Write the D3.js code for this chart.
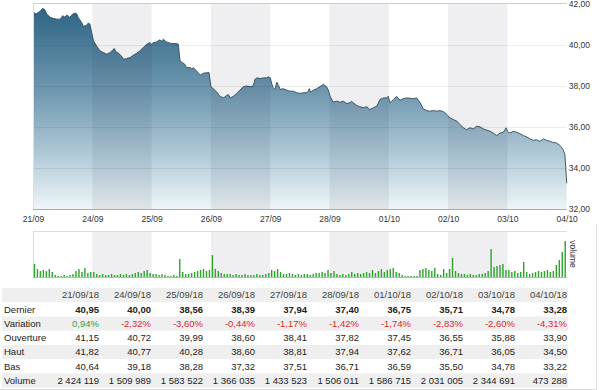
<!DOCTYPE html>
<html>
<head>
  <meta charset="utf-8">
  <script src="https://d3js.org/d3.v7.min.js"></script>
  <style>
    body { margin: 0; background: #fff; }
    text { font-family: "Liberation Sans", Arial, sans-serif; }
    .axis text { fill: #333; font-size: 8.5px; }
    .axis path, .axis line { display: none; }
    .cell { font-size: 9.5px; fill: #222; }
  </style>
</head>
<body>
<div id="chart"></div>
<script>
// x ticks (trading days) and y ticks of the price chart
var dayLabels = ["21/09", "24/09", "25/09", "26/09", "27/09", "28/09", "01/10", "02/10", "03/10", "04/10"];
var priceTicks = [32, 34, 36, 38, 40, 42];

// intraday price, time in trading days since 21/09 open
var priceTime = [0.00, 0.05, 0.09, 0.13, 0.16, 0.20, 0.23, 0.29, 0.34, 0.40, 0.46, 0.50, 0.54, 0.57, 0.60, 0.62, 0.67, 0.71, 0.74, 0.76,
  0.79, 0.82, 0.85, 0.88, 0.91, 0.93, 0.96, 0.99, 1.02, 1.07, 1.13, 1.19, 1.24, 1.30, 1.33, 1.37, 1.40, 1.44, 1.48, 1.53,
  1.58, 1.64, 1.69, 1.75, 1.80, 1.86, 1.92, 1.97, 2.00, 2.03, 2.09, 2.13, 2.17, 2.20, 2.23, 2.25, 2.31, 2.37, 2.42, 2.45,
  2.48, 2.52, 2.56, 2.59, 2.65, 2.68, 2.70, 2.76, 2.82, 2.87, 2.93, 2.97, 3.00, 3.04, 3.10, 3.15, 3.21, 3.25, 3.29, 3.33,
  3.38, 3.44, 3.49, 3.55, 3.60, 3.66, 3.70, 3.73, 3.74, 3.78, 3.83, 3.88, 3.94, 3.97, 4.00, 4.03, 4.05, 4.08, 4.11, 4.14,
  4.17, 4.22, 4.28, 4.33, 4.39, 4.45, 4.50, 4.56, 4.62, 4.64, 4.66, 4.68, 4.73, 4.78, 4.84, 4.87, 4.90, 4.92, 4.95, 4.98,
  5.01, 5.04, 5.06, 5.12, 5.18, 5.23, 5.29, 5.35, 5.37, 5.40, 5.46, 5.51, 5.57, 5.63, 5.68, 5.74, 5.80, 5.85, 5.91, 5.96,
  5.99, 6.02, 6.08, 6.13, 6.19, 6.24, 6.30, 6.36, 6.41, 6.47, 6.50, 6.53, 6.58, 6.64, 6.69, 6.75, 6.81, 6.86, 6.92, 6.98,
  7.03, 7.09, 7.15, 7.20, 7.26, 7.31, 7.37, 7.43, 7.48, 7.54, 7.59, 7.65, 7.71, 7.76, 7.82, 7.88, 7.93, 7.98, 8.00, 8.04,
  8.10, 8.16, 8.21, 8.27, 8.33, 8.38, 8.44, 8.49, 8.55, 8.61, 8.66, 8.72, 8.77, 8.83, 8.89, 8.94, 8.97, 8.99, 9.00];
var priceValue = [41.62, 41.51, 41.59, 41.67, 41.79, 41.72, 41.51, 41.35, 41.30, 41.26, 41.26, 41.43, 41.35, 41.46, 41.40, 41.35, 41.51, 41.56, 41.51, 41.35,
  41.23, 41.10, 40.91, 40.94, 40.97, 41.07, 41.02, 40.61, 40.20, 39.96, 39.71, 39.63, 39.55, 39.63, 39.71, 39.83, 39.66, 39.60, 39.50, 39.30,
  39.34, 39.39, 39.50, 39.60, 39.71, 39.88, 40.04, 40.12, 40.04, 40.12, 40.15, 40.25, 40.20, 40.28, 40.20, 40.15, 40.09, 40.07, 40.07, 40.04,
  39.22, 39.14, 39.06, 38.90, 38.90, 38.82, 38.90, 38.73, 38.53, 38.62, 38.65, 38.65, 37.97, 37.87, 37.70, 37.50, 37.42, 37.50, 37.59, 37.42,
  37.50, 37.64, 37.80, 37.97, 38.00, 37.97, 37.97, 38.16, 38.32, 38.40, 38.36, 38.39, 38.40, 38.45, 38.40, 38.08, 37.92, 37.83, 38.19, 38.03,
  37.83, 37.87, 37.80, 37.75, 37.75, 37.67, 37.64, 37.67, 37.67, 37.75, 37.87, 37.70, 37.80, 37.87, 37.97, 38.03, 38.08, 38.03, 37.97, 37.80,
  37.50, 37.34, 37.21, 37.26, 37.21, 37.26, 37.15, 37.18, 37.26, 37.18, 37.05, 36.99, 36.94, 36.99, 36.85, 36.94, 37.02, 37.34, 37.42, 37.42,
  37.50, 37.18, 37.34, 37.50, 37.30, 37.38, 37.42, 37.40, 37.38, 37.42, 37.30, 37.18, 36.89, 36.80, 36.77, 36.80, 36.77, 36.80, 36.75, 36.61,
  36.44, 36.36, 36.28, 36.12, 35.96, 35.87, 35.96, 35.91, 36.04, 36.01, 35.91, 35.85, 35.79, 35.71, 35.58, 35.71, 35.74, 35.96, 35.79, 35.71,
  35.79, 35.74, 35.68, 35.58, 35.51, 35.42, 35.35, 35.38, 35.30, 35.42, 35.35, 35.30, 35.25, 35.22, 35.09, 34.89, 34.65, 33.75, 33.26];

// intraday volume, 20 slots per day (relative units)
var volumeByDay = [
  [13, 8, 6, 7, 6, 8, 5, 2, 1, 1, 2, 1, 2, 3, 6, 8, 5, 9, 4, 5],
  [5, 3, 2, 3, 2, 2, 3, 2, 2, 3, 2, 3, 2, 3, 4, 5, 4, 6, 7, 4],
  [3, 3, 2, 3, 2, 1, 1, 2, 1, 18, 5, 3, 3, 4, 5, 6, 7, 8, 6, 7],
  [22, 8, 6, 4, 3, 3, 3, 2, 3, 2, 2, 3, 2, 2, 2, 3, 2, 2, 3, 4],
  [7, 6, 8, 5, 3, 3, 4, 3, 2, 3, 2, 3, 3, 2, 3, 4, 4, 5, 4, 7],
  [4, 6, 3, 2, 3, 2, 3, 5, 3, 4, 3, 4, 5, 4, 7, 4, 6, 8, 5, 7],
  [8, 9, 5, 4, 2, 1, 1, 1, 1, 1, 7, 8, 9, 7, 6, 9, 3, 2, 8, 4],
  [8, 19, 6, 4, 3, 3, 2, 3, 2, 2, 3, 3, 4, 6, 28, 10, 11, 12, 13, 7],
  [7, 5, 6, 4, 5, 15, 5, 3, 4, 5, 6, 5, 6, 7, 5, 6, 12, 17, 25, 36]
];

// daily table
var tableDates = ["21/09/18", "24/09/18", "25/09/18", "26/09/18", "27/09/18", "28/09/18", "01/10/18", "02/10/18", "03/10/18", "04/10/18"];
var dernier = [40.95, 40.00, 38.56, 38.39, 37.94, 37.40, 36.75, 35.71, 34.78, 33.28];
var variation = [0.94, -2.32, -3.60, -0.44, -1.17, -1.42, -1.74, -2.83, -2.60, -4.31];
var ouverture = [41.15, 40.72, 39.99, 38.60, 38.41, 37.82, 37.45, 36.55, 35.88, 33.90];
var haut = [41.82, 40.77, 40.28, 38.60, 38.81, 37.94, 37.62, 36.71, 36.05, 34.50];
var bas = [40.64, 39.18, 38.28, 37.32, 37.51, 36.71, 36.59, 35.50, 34.78, 33.22];
var volume = [2424119, 1509989, 1583522, 1366035, 1433523, 1506011, 1586715, 2031005, 2344691, 473288];

var fr = d3.formatLocale({decimal: ",", thousands: " ", grouping: [3], currency: ["", " €"], minus: "-"});
var f2 = fr.format(",.2f");
var fInt = fr.format(",d");

var svg = d3.select("#chart").append("svg")
  .attr("width", 600)
  .attr("height", 390);

var x = d3.scaleLinear().domain([0, 9]).range([33, 566.7]);
var y = d3.scaleLinear().domain([32, 42]).range([209, 4]);
var yVol = d3.scaleLinear().domain([0, 45]).range([277, 232]);

// gradient for the price area
var grad = svg.append("defs").append("linearGradient")
  .attr("id", "areaGrad")
  .attr("gradientUnits", "userSpaceOnUse")
  .attr("x1", 0).attr("x2", 0)
  .attr("y1", y(42)).attr("y2", y(32));
grad.selectAll("stop")
  .data([[0, "#2b6283"], [0.45, "#739bb2"], [0.75, "#b4ccd9"], [1, "#eff5f8"]])
  .enter().append("stop")
  .attr("offset", function (d) { return d[0]; })
  .attr("stop-color", function (d) { return d[1]; });

var price = priceTime.map(function (t, i) { return [t, priceValue[i]]; });

// draw area + line
svg.append("path")
  .datum(price)
  .attr("fill", "url(#areaGrad)")
  .attr("d", d3.area()
    .x(function (d) { return x(d[0]); })
    .y0(y(32))
    .y1(function (d) { return y(d[1]); }));

svg.append("path")
  .datum(price)
  .attr("fill", "none")
  .attr("stroke", "#2f4d5e")
  .attr("stroke-width", 0.9)
  .attr("d", d3.line()
    .x(function (d) { return x(d[0]); })
    .y(function (d) { return y(d[1]); }));

// alternating day bands, on both charts
var bandDays = [1, 3, 5, 7];
[[y(42), y(32)], [yVol(45), yVol(0)]].forEach(function (r) {
  svg.append("g").selectAll("rect")
    .data(bandDays)
    .enter().append("rect")
    .attr("x", function (d) { return x(d); })
    .attr("width", function (d) { return x(d + 1) - x(d); })
    .attr("y", r[0])
    .attr("height", r[1] - r[0])
    .attr("fill", "rgba(40,40,70,0.075)");
});

// horizontal grid
svg.append("g").selectAll("line")
  .data(priceTicks.slice(1, -1))
  .enter().append("line")
  .attr("x1", x(0)).attr("x2", x(9))
  .attr("y1", function (d) { return Math.round(y(d)) + 0.5; })
  .attr("y2", function (d) { return Math.round(y(d)) + 0.5; })
  .attr("stroke", "rgba(0,0,0,0.07)");

// frame lines
svg.append("line").attr("x1", x(0)).attr("x2", x(9)).attr("y1", 3.5).attr("y2", 3.5).attr("stroke", "#ccc");
svg.append("line").attr("x1", x(0)).attr("x2", x(9)).attr("y1", 209.5).attr("y2", 209.5).attr("stroke", "#aaa");
svg.append("line").attr("x1", 33.5).attr("x2", 33.5).attr("y1", 4).attr("y2", 209).attr("stroke", "#ddd");

// axes
svg.append("g")
  .attr("class", "axis")
  .attr("transform", "translate(0,209)")
  .call(d3.axisBottom(x).tickValues(d3.range(10)).tickSize(0).tickPadding(7)
    .tickFormat(function (d) { return dayLabels[d]; }));

svg.append("g")
  .attr("class", "axis")
  .attr("transform", "translate(" + x(9) + ",0)")
  .call(d3.axisRight(y).tickValues(priceTicks).tickSize(0).tickPadding(2).tickFormat(f2));

// volume chart
var volBars = [];
volumeByDay.forEach(function (day, di) {
  day.forEach(function (v, i) { volBars.push([di + (i + 0.5) / 20, v]); });
});

svg.append("line").attr("x1", x(0)).attr("x2", x(9)).attr("y1", 231.5).attr("y2", 231.5).attr("stroke", "#ddd");
svg.append("line").attr("x1", 33.5).attr("x2", 33.5).attr("y1", 232).attr("y2", 277).attr("stroke", "#ddd");

svg.append("g").selectAll("rect")
  .data(volBars)
  .enter().append("rect")
  .attr("x", function (d) { return x(d[0]) - 0.7; })
  .attr("width", 1.4)
  .attr("y", function (d) { return yVol(d[1]); })
  .attr("height", function (d) { return yVol(0) - yVol(d[1]); })
  .attr("fill", "#2aa52a");

svg.append("line").attr("x1", x(0)).attr("x2", x(9)).attr("y1", 277.5).attr("y2", 277.5).attr("stroke", "#9c9");

svg.append("text")
  .attr("transform", "translate(570,254) rotate(90)")
  .attr("text-anchor", "middle")
  .style("font-size", "8.5px")
  .style("fill", "#333")
  .text("volume");

// outer border on the right and bottom
svg.append("line").attr("x1", 596.5).attr("x2", 596.5).attr("y1", 224).attr("y2", 390).attr("stroke", "#ddd");
svg.append("line").attr("x1", 0).attr("x2", 597).attr("y1", 389.5).attr("y2", 389.5).attr("stroke", "#ddd");

// table
var rows = [
  {label: "", values: tableDates, fmt: function (d) { return d; }},
  {label: "Dernier", values: dernier, fmt: f2, bold: true},
  {label: "Variation", values: variation, fmt: function (d) { return f2(d) + "%"; }, color: true},
  {label: "Ouverture", values: ouverture, fmt: f2},
  {label: "Haut", values: haut, fmt: f2},
  {label: "Bas", values: bas, fmt: f2},
  {label: "Volume", values: volume, fmt: fInt}
];
var rowY = d3.scaleBand().domain(d3.range(rows.length)).range([288, 387.6]);
var colX = d3.scaleBand().domain(d3.range(tableDates.length)).range([47, 567]);

var rowG = svg.append("g").selectAll("g")
  .data(rows)
  .enter().append("g")
  .attr("transform", function (d, i) { return "translate(0," + rowY(i) + ")"; });

rowG.filter(function (d, i) { return i % 2 === 0; })
  .append("rect")
  .attr("x", 2).attr("width", 566)
  .attr("height", rowY.bandwidth())
  .attr("fill", "#efefef");

rowG.append("text")
  .attr("class", "cell")
  .attr("x", 4)
  .attr("y", rowY.bandwidth() / 2)
  .attr("dy", "0.35em")
  .text(function (d) { return d.label; });

rowG.each(function (row) {
  d3.select(this).selectAll("text.val")
    .data(row.values)
    .enter().append("text")
    .attr("class", "cell val")
    .attr("x", function (d, i) { return colX(i) + colX.bandwidth(); })
    .attr("y", rowY.bandwidth() / 2)
    .attr("dy", "0.35em")
    .attr("text-anchor", "end")
    .style("font-weight", row.bold ? "bold" : null)
    .style("fill", row.color ? function (d) { return d >= 0 ? "#3c9a3c" : "#e0262b"; } : (row.label === "" ? "#444" : null))
    .text(row.fmt);
});
</script>
</body>
</html>
